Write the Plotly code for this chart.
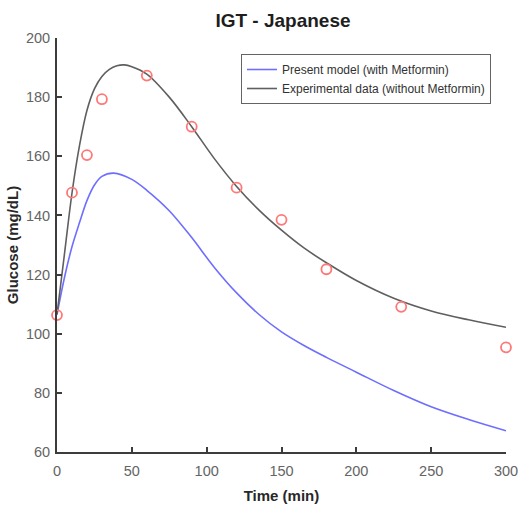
import plotly.graph_objects as go

# Data
t_exp = [0, 10, 20, 30, 60, 90, 120, 150, 180, 230, 300]
g_exp = [106.3, 147.7, 160.4, 179.3, 187.3, 170.0, 149.4, 138.5, 121.8, 109.1, 95.4]

t_gray = [0, 5, 10, 15, 20, 25, 30, 35, 40, 45, 50, 60, 75, 90, 105, 120, 135, 150, 165, 180, 200, 225, 250, 275, 300]
g_gray = [106.5, 127, 147.5, 163.5, 175.5, 182.8, 187, 189.4, 190.6, 190.9, 190.3, 187.8, 180, 170, 159.3, 149.8, 141.8, 135, 129, 124, 118, 112, 107.7, 104.7, 102.2]

t_blue = [0, 5, 10, 15, 20, 25, 30, 38, 50, 60, 75, 90, 105, 120, 135, 150, 165, 180, 200, 225, 250, 275, 300]
g_blue = [106.5, 119, 129.4, 137.5, 145, 150.3, 153.2, 154.3, 152.2, 148.5, 141.6, 132.5, 122.5, 113.8, 106.5, 100.6, 96, 92, 87, 80.8, 75.3, 71, 67.2]

x_ticks = [0, 50, 100, 150, 200, 250, 300]
y_ticks = [60, 80, 100, 120, 140, 160, 180, 200]

fig = go.Figure()
fig.add_trace(go.Scatter(x=t_blue, y=g_blue, mode="lines", name="Present model (with Metformin)",
                         line=dict(color="rgb(110,110,255)", width=1.6, shape="spline", smoothing=1)))
fig.add_trace(go.Scatter(x=t_gray, y=g_gray, mode="lines", name="Experimental data (without Metformin)",
                         line=dict(color="rgb(95,95,95)", width=1.6, shape="spline", smoothing=1)))
fig.add_trace(go.Scatter(x=t_exp, y=g_exp, mode="markers", showlegend=False, cliponaxis=False,
                         marker=dict(symbol="circle-open", size=10, color="rgb(255,120,120)",
                                     line=dict(width=1.8, color="rgb(255,120,120)"))))

font_family = "Liberation Sans, Arial, Helvetica, sans-serif"
L, R = 57, 506
fig.update_layout(
    width=519, height=505,
    margin=dict(l=L, r=519 - R, t=38, b=53),
    paper_bgcolor="white", plot_bgcolor="white",
    font=dict(family=font_family, size=14.5, color="rgb(100,100,100)"),
    title=dict(text="<b>IGT - Japanese</b>", x=283 / 519, xanchor="center",
               y=1 - 20 / 505, yanchor="middle", font=dict(size=19, color="rgb(30,30,30)")),
    xaxis=dict(range=[0, 300], tickvals=x_ticks, ticks="inside", ticklen=5, tickwidth=1.5,
               tickcolor="rgb(60,60,60)", showline=True, linecolor="rgb(60,60,60)", linewidth=2,
               showgrid=False, zeroline=False, automargin=False, ticklabelstandoff=5,
               ticklabeloverflow="allow",
               title=dict(text="<b>Time (min)</b>", font=dict(size=15, color="rgb(40,40,40)"), standoff=12)),
    yaxis=dict(range=[60, 200], tickvals=y_ticks, ticks="inside", ticklen=5, tickwidth=1.5,
               tickcolor="rgb(60,60,60)", showline=True, linecolor="rgb(60,60,60)", linewidth=2,
               showgrid=False, zeroline=False, automargin=False, ticklabelstandoff=2,
               ticklabeloverflow="allow",
               title=dict(text="<b>Glucose (mg/dL)</b>", font=dict(size=15, color="rgb(40,40,40)"), standoff=4)),
    legend=dict(x=(241 - L) / (R - L), y=(452 - 54) / 414, xanchor="left", yanchor="top",
                bgcolor="white", bordercolor="rgb(100,100,100)", borderwidth=1,
                font=dict(size=12, color="rgb(50,50,50)"), itemwidth=30,
                tracegroupgap=0),
    showlegend=True,
)
fig.write_html("out.html", config={"displayModeBar": False},
               post_script="document.body.style.margin='0';")
